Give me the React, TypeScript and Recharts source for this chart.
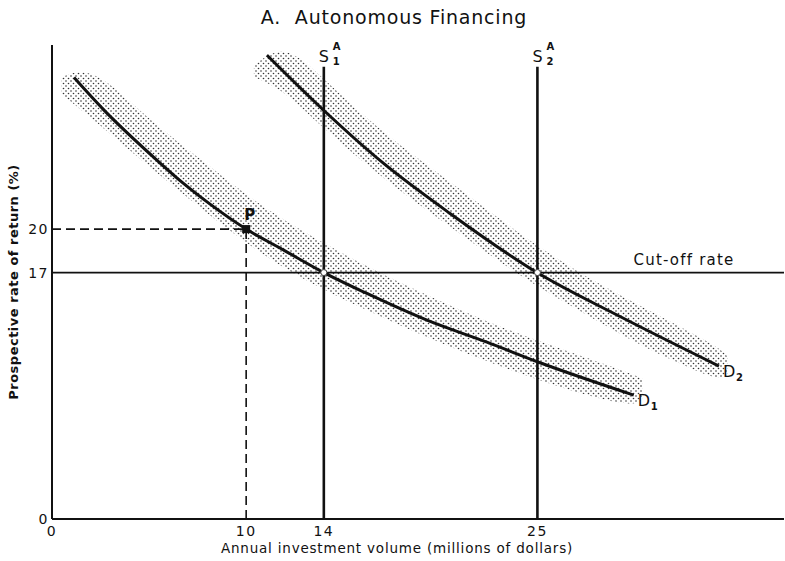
import React from "react";
import {
  ComposedChart,
  Line,
  Area,
  XAxis,
  YAxis,
  Scatter,
  ReferenceDot,
} from "recharts";

// ---- data ----
const xTicks = [0, 10, 14, 25];
const yTicks = [0, 17, 20];

const demand1 = [
  { x: 1.13, y: 30.46 },
  { x: 2.64, y: 28.26 },
  { x: 5.4, y: 24.76 },
  { x: 6.77, y: 23.15 },
  { x: 8.14, y: 21.72 },
  { x: 10, y: 20 },
  { x: 12, y: 18.5 },
  { x: 14, y: 17 },
  { x: 16.22, y: 15.56 },
  { x: 19.31, y: 13.72 },
  { x: 22.4, y: 12.2 },
  { x: 25, y: 10.85 },
  { x: 29.96, y: 8.55 },
];

const demand2 = [
  { x: 11.07, y: 32.0 },
  { x: 13.99, y: 28.2 },
  { x: 17.08, y: 24.53 },
  { x: 20.5, y: 21.08 },
  { x: 24.98, y: 17.0 },
  { x: 29.28, y: 13.95 },
  { x: 34.35, y: 10.55 },
];

const band1 = [
  { x: 0.5, r: [29.3, 30.5] },
  { x: 2.1, r: [27.6, 31.3] },
  { x: 5.0, r: [24.3, 27.5] },
  { x: 7.6, r: [21.5, 24.9] },
  { x: 10.2, r: [18.8, 22.1] },
  { x: 12.8, r: [16.6, 19.9] },
  { x: 16.2, r: [14.4, 17.4] },
  { x: 19.5, r: [12.4, 15.3] },
  { x: 23.1, r: [10.5, 13.2] },
  { x: 26.5, r: [8.9, 11.6] },
  { x: 29.9, r: [7.7, 10.0] },
  { x: 30.4, r: [8.3, 9.7] },
];

const band2 = [
  { x: 10.4, r: [30.5, 31.3] },
  { x: 11.9, r: [29.6, 32.8] },
  { x: 13.6, r: [27.4, 30.9] },
  { x: 17.1, r: [23.4, 26.5] },
  { x: 20.5, r: [20.2, 23.3] },
  { x: 24.0, r: [16.8, 19.7] },
  { x: 27.0, r: [14.5, 17.1] },
  { x: 29.3, r: [12.7, 15.4] },
  { x: 32.0, r: [10.9, 13.5] },
  { x: 34.4, r: [9.5, 11.8] },
  { x: 34.8, r: [10.0, 11.2] },
];

const supply1 = [
  { x: 14, y: 0 },
  { x: 14, y: 31.2 },
];
const supply2 = [
  { x: 25, y: 0 },
  { x: 25, y: 31.2 },
];
const cutoff = [
  { x: 0, y: 17 },
  { x: 37.7, y: 17 },
];
const dashH = [
  { x: 0, y: 20 },
  { x: 10, y: 20 },
];
const dashV = [
  { x: 10, y: 0 },
  { x: 10, y: 20 },
];
const pointP = [{ x: 10, y: 20 }];
const crossings = [
  { x: 14, y: 17 },
  { x: 25, y: 17 },
];

const FONT = "'DejaVu Sans', sans-serif";
const INK = "#111";

const SLabel = (props: any) => {
  const { viewBox, sub } = props;
  const x = viewBox.x;
  const y = viewBox.y;
  return (
    <g fontFamily={FONT} fill={INK}>
      <text x={x - 5} y={y - 5} fontSize={16}>
        S
      </text>
      <text x={x + 9} y={y - 17} fontSize={10} fontWeight="bold">
        A
      </text>
      <text x={x + 9} y={y - 2} fontSize={10} fontWeight="bold">
        {sub}
      </text>
    </g>
  );
};

const DLabel = (props: any) => {
  const { viewBox, sub } = props;
  const x = viewBox.x;
  const y = viewBox.y;
  return (
    <g fontFamily={FONT} fill={INK}>
      <text x={x + 4} y={y + 11} fontSize={16}>
        D
      </text>
      <text x={x + 17} y={y + 15} fontSize={10} fontWeight="bold">
        {sub}
      </text>
    </g>
  );
};

const TextLabel = (props: any) => {
  const { viewBox, text, dx, dy, size, weight } = props;
  return (
    <text
      x={viewBox.x + dx}
      y={viewBox.y + dy}
      fontSize={size}
      fontWeight={weight || "normal"}
      fontFamily={FONT}
      fill={INK}
      letterSpacing={1.2}
    >
      {text}
    </text>
  );
};

const PShape = (props: any) => (
  <rect x={props.cx - 4} y={props.cy - 4} width={8} height={8} fill={INK} />
);

const YTick = (props: any) => {
  const { x, y, payload } = props;
  return (
    <text
      x={x}
      y={y}
      dy="0.36em"
      textAnchor="end"
      fontSize={14}
      fontFamily={FONT}
      fill={INK}
      letterSpacing={1.5}
    >
      {payload.value}
    </text>
  );
};

const XTick = (props: any) => {
  const { x, y, payload } = props;
  return (
    <text
      x={x}
      y={y}
      dy="0.75em"
      textAnchor="middle"
      fontSize={14}
      fontFamily={FONT}
      fill={INK}
      letterSpacing={1.5}
    >
      {payload.value}
    </text>
  );
};

export default function App() {
  return (
    <div style={{ position: "absolute", left: 0, top: 0, background: "#fff" }}>
      <ComposedChart
        width={785}
        height={561}
        margin={{ top: 45, right: 1, left: 12, bottom: 12 }}
      >
        <defs>
          <pattern
            id="stipple"
            width="5"
            height="5"
            patternUnits="userSpaceOnUse"
          >
            <circle cx="1" cy="1" r="0.8" fill="#333" />
            <circle cx="3.5" cy="3.5" r="0.8" fill="#333" />
          </pattern>
        </defs>
        <text
          x={394}
          y={24}
          textAnchor="middle"
          fontSize={19}
          fontFamily={FONT}
          fill={INK}
          letterSpacing={0.8}
        >
          {"A.\u00a0\u00a0Autonomous Financing"}
        </text>
        <text
          transform="rotate(-90)"
          x={-282}
          y={18}
          textAnchor="middle"
          fontSize={13}
          fontWeight="bold"
          fontFamily={FONT}
          fill={INK}
          letterSpacing={0.5}
        >
          Prospective rate of return (%)
        </text>
        <text
          x={397}
          y={553}
          textAnchor="middle"
          fontSize={13.5}
          fontFamily={FONT}
          fill={INK}
          letterSpacing={0.8}
        >
          Annual investment volume (millions of dollars)
        </text>
        <XAxis
          type="number"
          dataKey="x"
          domain={[0, 37.7]}
          ticks={xTicks}
          interval={0}
          allowDataOverflow
          height={30}
          tickLine={false}
          tickSize={0}
          tickMargin={6}
          tick={<XTick />}
          axisLine={{ stroke: INK, strokeWidth: 2 }}
        />
        <YAxis
          type="number"
          dataKey="y"
          domain={[0, 32.7]}
          ticks={yTicks}
          interval={0}
          allowDataOverflow
          width={40}
          tickLine={false}
          tickSize={0}
          tickMargin={3}
          tick={<YTick />}
          axisLine={{ stroke: INK, strokeWidth: 2 }}
        />
        <Area
          data={band1}
          dataKey="r"
          type="basis"
          stroke="none"
          fill="url(#stipple)"
          fillOpacity={1}
          isAnimationActive={false}
          dot={false}
          activeDot={false}
        />
        <Area
          data={band2}
          dataKey="r"
          type="basis"
          stroke="none"
          fill="url(#stipple)"
          fillOpacity={1}
          isAnimationActive={false}
          dot={false}
          activeDot={false}
        />
        <Line
          data={cutoff}
          dataKey="y"
          type="linear"
          stroke={INK}
          strokeWidth={1.6}
          dot={false}
          activeDot={false}
          isAnimationActive={false}
        />
        <Line
          data={dashH}
          dataKey="y"
          type="linear"
          stroke={INK}
          strokeWidth={1.6}
          strokeDasharray="9 5"
          dot={false}
          activeDot={false}
          isAnimationActive={false}
        />
        <Line
          data={dashV}
          dataKey="y"
          type="linear"
          stroke={INK}
          strokeWidth={1.6}
          strokeDasharray="9 5"
          dot={false}
          activeDot={false}
          isAnimationActive={false}
        />
        <Line
          data={supply1}
          dataKey="y"
          type="linear"
          stroke={INK}
          strokeWidth={2.6}
          dot={false}
          activeDot={false}
          isAnimationActive={false}
        />
        <Line
          data={supply2}
          dataKey="y"
          type="linear"
          stroke={INK}
          strokeWidth={2.6}
          dot={false}
          activeDot={false}
          isAnimationActive={false}
        />
        <Line
          data={demand1}
          dataKey="y"
          type="monotone"
          stroke={INK}
          strokeWidth={3}
          dot={false}
          activeDot={false}
          isAnimationActive={false}
        />
        <Line
          data={demand2}
          dataKey="y"
          type="monotone"
          stroke={INK}
          strokeWidth={3}
          dot={false}
          activeDot={false}
          isAnimationActive={false}
        />
        {crossings.map((c, i) => (
          <ReferenceDot
            key={"c" + i}
            x={c.x}
            y={c.y}
            r={3}
            fill="#fff"
            stroke="#444"
            strokeWidth={1}
          />
        ))}
        <Scatter
          data={pointP}
          dataKey="y"
          shape={<PShape />}
          isAnimationActive={false}
        />
        <ReferenceDot
          x={pointP[0].x}
          y={pointP[0].y}
          r={0}
          fill="none"
          stroke="none"
          label={<TextLabel text="P" dx={-2} dy={-9} size={15} weight="bold" />}
        />
        <ReferenceDot
          x={supply1[1].x}
          y={supply1[1].y}
          r={0}
          fill="none"
          stroke="none"
          label={<SLabel sub="1" />}
        />
        <ReferenceDot
          x={supply2[1].x}
          y={supply2[1].y}
          r={0}
          fill="none"
          stroke="none"
          label={<SLabel sub="2" />}
        />
        <ReferenceDot
          x={demand1[demand1.length - 1].x}
          y={demand1[demand1.length - 1].y}
          r={0}
          fill="none"
          stroke="none"
          label={<DLabel sub="1" />}
        />
        <ReferenceDot
          x={demand2[demand2.length - 1].x}
          y={demand2[demand2.length - 1].y}
          r={0}
          fill="none"
          stroke="none"
          label={<DLabel sub="2" />}
        />
        <ReferenceDot
          x={29.95}
          y={17}
          r={0}
          fill="none"
          stroke="none"
          label={<TextLabel text="Cut-off rate" dx={0} dy={-8} size={15} />}
        />
      </ComposedChart>
    </div>
  );
}
